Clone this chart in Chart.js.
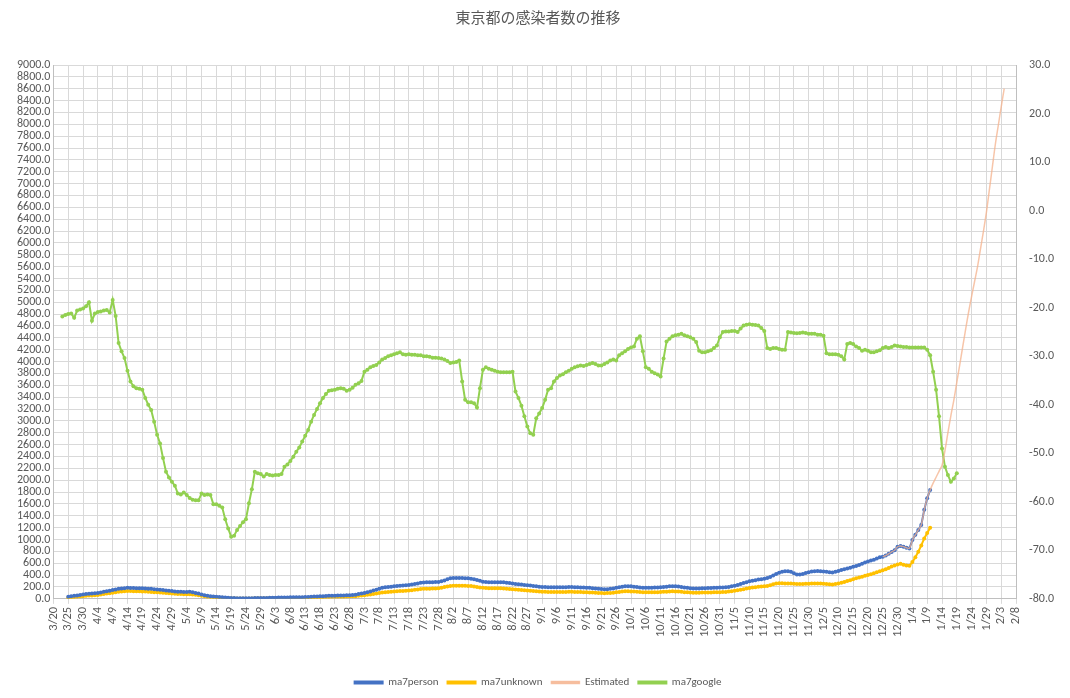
<!DOCTYPE html>
<html><head><meta charset="utf-8">
<script src="https://cdn.jsdelivr.net/npm/chart.js@4/dist/chart.umd.min.js"></script>
<style>html,body{margin:0;padding:0;background:#fff}#w{width:1070px;height:698px}</style>
</head><body><div id="w"><canvas id="c"></canvas></div>
<script>
// day index 0 = 3/20 (2020), axis runs to day 325 = 2/8 (2021)
const tickLabels = ['3/20','3/25','3/30','4/4','4/9','4/14','4/19','4/24','4/29','5/4','5/9','5/14','5/19','5/24','5/29','6/3','6/8','6/13','6/18','6/23','6/28','7/3','7/8','7/13','7/18','7/23','7/28','8/2','8/7','8/12','8/17','8/22','8/27','9/1','9/6','9/11','9/16','9/21','9/26','10/1','10/6','10/11','10/16','10/21','10/26','10/31','11/5','11/10','11/15','11/20','11/25','11/30','12/5','12/10','12/15','12/20','12/25','12/30','1/4','1/9','1/14','1/19','1/24','1/29','2/3','2/8'];

const personStart = 5;
const ma7person = [35,42,50,58,65, 72,80,85,90,95, 100,108,118,128,138, 148,158,168,175,180, 185,183,182,180,180, 178,176,172,168,162,
158,152,148,142,136, 130,125,120,118,115, 115,118,112,100,88, 72,60,52,45,40, 35,30,26,22,18, 15,12,10,9,8, 8,9,10,12,14,
15,15,16,17,18, 20,22,22,23,24, 25,25,26,27,28, 30,32,35,38,40, 42,45,48,50,52, 54,55,56,58,60, 62,65,70,80,90,
100,110,125,140,155, 170,185,195,200,205, 210,215,220,225,230, 235,240,250,260,270, 275,278,280,280,282, 285,295,310,330,345,
350,352,352,350,348, 345,340,330,318,305, 290,282,280,278,278, 280,280,278,272,265, 258,250,245,240,235, 230,225,218,210,205,
200,198,196,195,194, 194,195,196,197,198, 198,197,195,192,190, 188,185,180,175,170, 165,162,163,168,175, 185,195,205,212,214,
210,205,198,192,188, 186,186,188,190,192, 195,200,205,210,214, 212,208,200,192,185, 180,176,175,176,178, 180,182,184,186,188,
190,192,195,200,210, 222,235,250,265,281, 295,305,315,325,332, 338,350,370,395,420, 440,455,465,467,455, 430,411,410,420,435,
450,460,467,470,465, 460,455,450,445,455, 470,485,500,510,523, 540,555,570,590,613, 630,645,660,680,700, 709,730,760,790,820,
878,890,880,860,850, 990,1080,1160,1244,1500,1694,1835];

const unknownStart = 5;
const ma7unknown = [20,25,30,35,40, 45,50,55,58,62, 66,72,80,88,95, 103,110,118,124,128, 130,130,129,128,127, 125,123,120,117,113,
110,106,102,98,94, 90,86,83,80,78, 77,78,75,68,60, 50,42,36,31,27, 24,20,17,14,12, 10,8,7,6,5, 5,6,7,8,9,
10,10,11,11,12, 13,14,14,15,15, 16,16,17,17,18, 19,20,22,24,26, 27,29,31,32,33, 34,35,36,37,38, 40,42,45,50,56,
62,68,75,82,90, 98,105,110,114,118, 122,126,130,134,138, 142,146,152,158,164, 168,170,172,174,176, 180,188,198,208,215,
220,222,222,221,220, 218,215,208,200,192, 186,182,180,179,178, 178,178,176,172,167, 162,157,153,150,146, 142,138,133,128,124,
120,118,116,115,114, 114,115,116,117,118, 118,117,116,114,112, 110,108,105,102,100, 98,96,97,100,104, 110,116,122,126,128,
125,122,118,114,111, 110,110,111,112,113, 115,118,121,124,126, 125,122,118,113,109, 106,104,103,104,105, 106,107,108,109,110,
112,114,117,122,128, 135,143,152,162,175, 183,190,196,202,206, 210,218,230,245,259, 262,262,260,259,258, 255,250,248,250,253,
256,258,259,259,258, 255,250,245,242,248, 258,270,285,300,315, 330,345,358,372,388, 400,415,430,450,467, 480,500,520,545,560,
580,590,575,560,557, 620,700,793,900,1018,1110,1200];

const estimatedStart = 280;
const estimated = [709,730,760,790,820, 878,890,880,860,850, 990,1080,1160,1244,1500,1694,1835,
1950,2050,2150,2250,2500,2800,3090,3350,3650,3950,4250,4550,4840,5100,5350,5600,5900,6200,6520,6900,7280,7660,7980,8300,8600];

const googleStart = 3;
const ma7google = [-21.8,-21.5,-21.3,-21.2,-22.1,-20.6,-20.4,-20.2,-19.7,-18.9,-22.7,-21.2,-20.9,-20.8,-20.6,-20.5,-21.0,-18.4,-21.7,
-27.3,-29.0,-30.4,-33.0,-35.2,-36.2,-36.6,-36.7,-36.9,-38.6,-40.0,-41.1,-43.5,-46.2,-48.0,-51.0,-53.8,-55.0,-55.9,-56.7,-58.3,
-58.5,-58.1,-58.6,-59.2,-59.6,-59.7,-59.7,-58.3,-58.6,-58.5,-58.6,-60.5,-60.5,-60.8,-61.2,-63.6,-65.5,-67.2,-67.0,-65.8,-65.0,
-64.2,-63.6,-60.3,-57.4,-53.8,-54.1,-54.3,-54.8,-54.3,-54.5,-54.6,-54.5,-54.5,-54.3,-52.8,-52.3,-51.6,-50.7,-49.7,-48.8,-47.6,
-46.4,-45.2,-43.5,-42.1,-40.9,-39.7,-38.6,-37.8,-37.1,-37.0,-36.9,-36.7,-36.6,-36.7,-37.1,-36.9,-36.5,-35.9,-35.6,-35.1,-33.2,
-32.8,-32.3,-32.0,-31.8,-31.3,-30.7,-30.4,-30.0,-29.8,-29.6,-29.4,-29.2,-29.6,-29.7,-29.6,-29.7,-29.7,-29.8,-29.8,-30.0,-30.0,
-30.1,-30.3,-30.3,-30.4,-30.5,-30.7,-31.0,-31.4,-31.3,-31.2,-30.9,-35.2,-39.0,-39.5,-39.5,-39.7,-40.6,-36.6,-32.8,-32.3,-32.6,
-32.8,-33.0,-33.2,-33.3,-33.3,-33.3,-33.3,-33.2,-37.3,-38.6,-40.2,-42.4,-44.5,-45.9,-46.2,-42.8,-41.8,-40.7,-39.0,-36.9,-36.6,
-35.2,-34.5,-34.0,-33.7,-33.3,-33.0,-32.6,-32.3,-32.1,-31.9,-32.0,-31.8,-31.6,-31.4,-31.6,-31.9,-31.9,-31.6,-31.3,-30.9,-30.7,
-30.9,-29.8,-29.4,-29.0,-28.5,-28.2,-28.0,-26.4,-25.9,-29.0,-32.3,-32.6,-33.2,-33.5,-33.8,-34.2,-30.5,-27.0,-26.4,-25.9,-25.7,
-25.6,-25.4,-25.7,-25.9,-26.1,-26.4,-27.1,-28.9,-29.2,-29.2,-29.0,-28.8,-28.3,-27.8,-26.1,-25.0,-24.9,-24.9,-24.8,-24.8,-25.0,
-24.3,-23.7,-23.5,-23.4,-23.5,-23.6,-23.7,-24.2,-24.8,-28.3,-28.5,-28.3,-28.3,-28.5,-28.7,-28.7,-25.0,-25.1,-25.2,-25.3,-25.2,
-25.1,-25.2,-25.4,-25.4,-25.4,-25.6,-25.6,-25.8,-29.4,-29.6,-29.6,-29.6,-29.7,-30.0,-30.7,-27.5,-27.3,-27.5,-28.0,-28.3,-28.9,
-28.7,-28.9,-29.2,-29.2,-29.0,-28.8,-28.3,-28.1,-28.3,-28.1,-27.8,-27.9,-28.0,-28.1,-28.1,-28.2,-28.2,-28.2,-28.2,-28.2,-28.2,
-28.7,-29.8,-33.2,-36.9,-42.4,-49.0,-52.8,-54.5,-55.9,-55.2,-54.1];

const pts = (start, arr) => arr.map((v, i) => ({x: start + i, y: v}));
const txt = '#595959';
const F = 'Calibri, "Liberation Sans", "Noto Sans CJK JP", sans-serif';

new Chart(document.getElementById('c'), {
  type: 'line',
  data: { datasets: [
    {label:'ma7person', data: pts(personStart, ma7person), borderColor:'#4472C4', backgroundColor:'#4472C4', borderWidth:2, pointRadius:2, pointBorderWidth:0, yAxisID:'y', order:3},
    {label:'ma7unknown', data: pts(unknownStart, ma7unknown), borderColor:'#FFC000', backgroundColor:'#FFC000', borderWidth:2, pointRadius:2, pointBorderWidth:0, yAxisID:'y', order:4},
    {label:'Estimated', data: pts(estimatedStart, estimated), borderColor:'rgba(244,177,140,0.75)', backgroundColor:'rgba(244,177,140,0.75)', borderWidth:1.5, pointRadius:0, yAxisID:'y', order:1, tension:0.3},
    {label:'ma7google', data: pts(googleStart, ma7google), borderColor:'#92D050', backgroundColor:'#92D050', borderWidth:2, pointRadius:2, pointBorderWidth:0, yAxisID:'y2', order:2}
  ]},
  options: {
    animation:false, responsive:true, maintainAspectRatio:false,
    layout:{padding:{left:14,right:8,top:4,bottom:0}},
    plugins:{
      title:{display:true, text:'東京都の感染者数の推移', color:txt, font:{size:15, family:F, weight:'normal'}, padding:{top:6,bottom:37}},
      legend:{position:'bottom', labels:{color:txt, font:{size:11,family:F}, boxWidth:28, boxHeight:2, padding:9, sort:(a,b)=>a.datasetIndex-b.datasetIndex}},
      tooltip:{enabled:false}
    },
    scales:{
      x:{type:'linear', min:0, max:325, afterFit: a => { a.height += 28; },
        ticks:{stepSize:5, autoSkip:false, maxRotation:90, minRotation:90, color:txt, font:{size:12.5,family:F}, callback:v => tickLabels[Math.round(v/5)]},
        grid:{color:'#d9d9d9', drawTicks:true, tickLength:5}, border:{color:'#bfbfbf'}},
      y:{position:'left', min:0, max:9000,
        ticks:{stepSize:200, autoSkip:false, color:txt, font:{size:12,family:F}, callback:v => v.toFixed(1)},
        grid:{color:'#d9d9d9', drawTicks:false}, border:{color:'#bfbfbf'}},
      y2:{position:'right', min:-80, max:30,
        ticks:{stepSize:10, color:txt, font:{size:12,family:F}, callback:v => v.toFixed(1), padding:8},
        grid:{display:false, drawTicks:true, tickLength:5, color:'#bfbfbf'}, border:{color:'#bfbfbf'}}
    }
  }
});
</script></body></html>
